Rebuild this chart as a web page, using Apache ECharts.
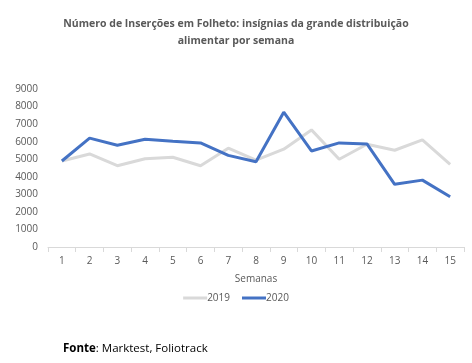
<!DOCTYPE html>
<html><head><meta charset="utf-8">
<script src="https://cdn.jsdelivr.net/npm/echarts@6/dist/echarts.min.js"></script>
<style>html,body{margin:0;padding:0;background:#fff}#c{width:472px;height:363px}</style>
</head><body><div id="c"></div>
<script>
const weeks = ['1','2','3','4','5','6','7','8','9','10','11','12','13','14','15'];
const s2019 = [4900,5300,4630,5030,5110,4630,5630,4950,5570,6670,5000,5850,5510,6100,4710];
const s2020 = [4900,6200,5800,6140,6030,5930,5220,4860,7680,5470,5930,5870,3570,3810,2860];
const yTicks = [0,1000,2000,3000,4000,5000,6000,7000,8000,9000];
const titleText = 'Número de Inserções em Folheto: insígnias da grande distribuição\nalimentar por semana';
const chart = echarts.init(document.getElementById('c'), null, {renderer:'canvas'});
const font = 'Open Sans';
chart.setOption({
  animation:false,
  textStyle:{fontFamily:font},
  title:[{text:titleText,left:'center',top:11,textStyle:{fontSize:10.5,fontWeight:'bold',color:'#595959',fontFamily:font,lineHeight:17}},
    {text:'{b|Fonte}: Marktest, Foliotrack',left:58,top:338,textStyle:{fontSize:11.5,color:'#000',fontWeight:'normal',fontFamily:font,rich:{b:{fontWeight:'bold',fontSize:11.5,color:'#000',fontFamily:font}}}}],
  legend:{data:['2019','2020'],top:288,left:'center',itemWidth:24,itemHeight:3,itemGap:12,icon:'rect',
    textStyle:{fontSize:10,color:'#595959',fontFamily:font,padding:[0,0,0,-5]}},
  grid:{left:48,right:8,top:89,bottom:116},
  xAxis:{type:'category',data:weeks,boundaryGap:true,name:'Semanas',nameLocation:'middle',nameGap:27,
    nameTextStyle:{fontSize:10,color:'#595959'},
    axisLine:{lineStyle:{color:'#d9d9d9',width:1}},axisTick:{show:true,lineStyle:{color:'#d9d9d9'},length:5},
    axisLabel:{fontSize:10,color:'#595959',margin:9}},
  yAxis:{type:'value',min:0,max:9000,interval:1000,splitLine:{show:false},axisLine:{show:false},axisTick:{show:false},
    axisLabel:{fontSize:10,color:'#595959',margin:10,formatter:v=>yTicks.includes(v)?String(v):''}},
  series:[
    {name:'2019',type:'line',data:s2019,symbol:'none',lineStyle:{color:'#d9d9d9',width:3},itemStyle:{color:'#d9d9d9'}},
    {name:'2020',type:'line',data:s2020,symbol:'none',lineStyle:{color:'#4472c4',width:3},itemStyle:{color:'#4472c4'}}
  ]
});
</script></body></html>
